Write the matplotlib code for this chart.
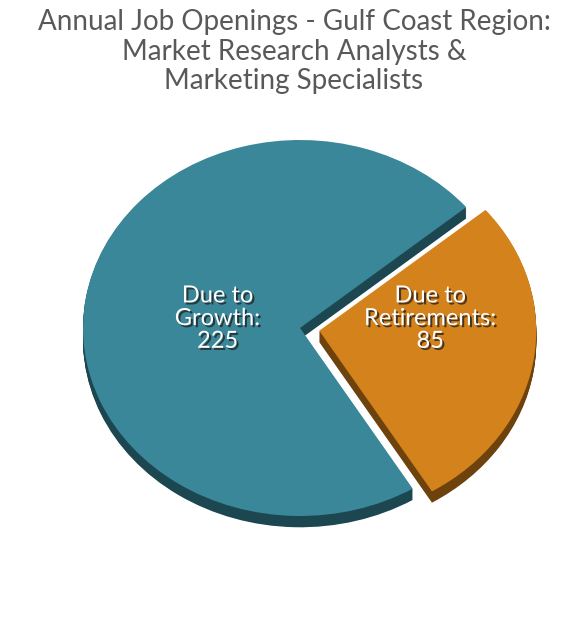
import matplotlib
matplotlib.use("Agg")
import matplotlib.pyplot as plt
import matplotlib.patheffects as pe

# data
labels = ["Due to\nGrowth:\n225", "Due to\nRetirements:\n85"]
values = [225, 85]
colors = ["#3A8799", "#D4821C"]
shade_colors = ["#1C4650", "#6E420C"]
explode = [0, 0.09]

W, H = 588, 624
fig = plt.figure(figsize=(W / 100, H / 100), dpi=100)

rx, ry = 217, 188
cx, cy = 300, 624 - 328
ax = fig.add_axes([(cx - 1.3 * rx) / W, (cy - 1.3 * ry) / H, 2.6 * rx / W, 2.6 * ry / H])

# shadow / depth layer
for k in range(12):
    off = 0.06 * (12 - k) / 12
    ax.pie(values, colors=shade_colors, explode=explode, startangle=40,
           center=(0, -off), radius=1, wedgeprops=dict(linewidth=0))

wedges, _ = ax.pie(values, colors=colors, explode=explode, startangle=40,
                   radius=1, wedgeprops=dict(linewidth=0))
ax.set_aspect("auto")
ax.set_xlim(-1.3, 1.3)
ax.set_ylim(-1.3, 1.3)
ax.axis("off")

pos = [(-0.38, 0.05), (0.6, 0.05)]
for (x, y), t in zip(pos, labels):
    ax.text(x, y, t, ha="center", va="center", color="white", fontsize=17,
            family="Lato", linespacing=1.1,
            path_effects=[pe.withSimplePatchShadow(offset=(1.5, -1.5), shadow_rgbFace="#222222", alpha=0.8)])

fig.text(0.5, 0.985, "Annual Job Openings - Gulf Coast Region:\nMarket Research Analysts &\nMarketing Specialists",
         ha="center", va="top", fontsize=20, color="#595959", family="Lato", linespacing=1.15)

fig.savefig("out.png", dpi=100, facecolor="white")
